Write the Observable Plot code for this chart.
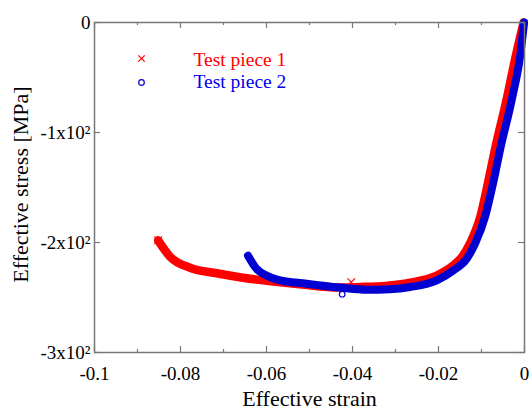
<!DOCTYPE html>
<html><head><meta charset="utf-8">
<script src="https://cdn.jsdelivr.net/npm/d3@7"></script>
<script src="https://cdn.jsdelivr.net/npm/@observablehq/plot@0.6"></script>
<style>body{margin:0;background:#fff;} #chart{width:530px;height:409px;}</style>
</head><body><div id="chart"></div>
<script>
// Test piece 1 (red, x markers)
const redStrain = [-0.0852, -0.0824, -0.0778, -0.0716, -0.0655, -0.0585, -0.0522, -0.0429, -0.0383, -0.0324, -0.0266, -0.0204, -0.0166, -0.0145, -0.0127, -0.0103, -0.0085, -0.0069, -0.0041, -0.0020, -0.0002];
const redStress = [-198, -213, -223, -228, -232, -235.5, -238, -241, -240.5, -239.5, -236.5, -230, -221, -213, -201, -177, -146, -116, -69, -30, 0];
// Test piece 2 (blue, o markers)
const blueStrain = [-0.0643, -0.0623, -0.0600, -0.0573, -0.0507, -0.0429, -0.0367, -0.0313, -0.0266, -0.0204, -0.0166, -0.0134, -0.0115, -0.0092, -0.0073, -0.0057, -0.0029, -0.0010, -0.0001];
const blueStress = [-212, -224, -230, -234, -237.5, -241, -243, -242.5, -240.5, -234.5, -225.5, -214.5, -201, -177, -146, -116, -69, -30, 0];
// isolated markers visible off the bands
const redMarkStrain = [-0.0852, -0.0403];
const redMarkStress = [-198, -236];
const blueMarkStrain = [-0.0643, -0.0424];
const blueMarkStress = [-212, -247];

const seriesNames = ["Test piece 1", "Test piece 2"];
const xTicks = [-0.1, -0.08, -0.06, -0.04, -0.02, 0];
const xTickLabels = ["-0.1", "-0.08", "-0.06", "-0.04", "-0.02", "0"];
const xMinorTicks = [-0.09, -0.07, -0.05, -0.03, -0.01];
const yTicks = [-300, -200, -100, 0];
const yTickLabels = ["-3x10\u00B2", "-2x10\u00B2", "-1x10\u00B2", "0"];
const xLabel = "Effective strain";
const yLabel = "Effective stress [MPa]";

const red = redStrain.map((x, i) => ({x, y: redStress[i]}));
const blue = blueStrain.map((x, i) => ({x, y: blueStress[i]}));
const redMarks = redMarkStrain.map((x, i) => ({x, y: redMarkStress[i]}));
const blueMarks = blueMarkStrain.map((x, i) => ({x, y: blueMarkStress[i]}));

const W = 530, H = 409, mL = 94, mR = 6, mT = 22, mB = 57;
const pw = W - mL - mR, ph = H - mT - mB;
const gray = "#777";
const RED = "#ff0000", BLUE = "#0000d0";
const font = "'Liberation Serif','Times New Roman',serif";

const chart = Plot.plot({
  width: W, height: H,
  marginLeft: mL, marginRight: mR, marginTop: mT, marginBottom: mB,
  style: {fontFamily: font, background: "#fff", overflow: "visible", color: "#000"},
  x: {domain: [-0.1, 0], axis: null},
  y: {domain: [-300, 0], axis: null},
  marks: [
    Plot.line(red, {x: "x", y: "y", stroke: RED, strokeWidth: 8.5, curve: "monotone-x"}),
    Plot.dot(redMarks, {x: "x", y: "y", symbol: "times", stroke: RED, r: 3.5, strokeWidth: 1.2}),
    Plot.line(blue, {x: "x", y: "y", stroke: BLUE, strokeWidth: 8, curve: "monotone-x"}),
    Plot.dot(blueMarks, {x: "x", y: "y", symbol: "circle", stroke: BLUE, fill: "none", r: 2.8, strokeWidth: 1.2}),
    // frame and inward ticks
    Plot.frame({stroke: gray, strokeWidth: 1.5}),
    Plot.tickX(xTicks, {x: d => d, stroke: gray, strokeWidth: 1.2, insetTop: ph - 6}),
    Plot.tickX(xTicks, {x: d => d, stroke: gray, strokeWidth: 1.2, insetBottom: ph - 6}),
    Plot.tickX(xMinorTicks, {x: d => d, stroke: gray, strokeWidth: 1.2, insetTop: ph - 3}),
    Plot.tickX(xMinorTicks, {x: d => d, stroke: gray, strokeWidth: 1.2, insetBottom: ph - 3}),
    Plot.tickY(yTicks, {y: d => d, stroke: gray, strokeWidth: 1.2, insetRight: pw - 6}),
    Plot.tickY(yTicks, {y: d => d, stroke: gray, strokeWidth: 1.2, insetLeft: pw - 6}),
    // tick labels
    Plot.text(xTicks, {x: d => d, text: (d, i) => xTickLabels[i], frameAnchor: "bottom", lineAnchor: "top", dy: 14, fontSize: 19, fontFamily: font, fill: "#000"}),
    Plot.text(yTicks, {y: d => d, text: (d, i) => yTickLabels[i], frameAnchor: "left", textAnchor: "end", lineAnchor: "middle", dx: -4, fontSize: 19, fontFamily: font, fill: "#000"}),
    // axis titles
    Plot.text([xLabel], {text: d => d, frameAnchor: "bottom", textAnchor: "middle", lineAnchor: "middle", dy: 46, fontSize: 22, fontFamily: font, fill: "#000"}),
    Plot.text([yLabel], {text: d => d, frameAnchor: "left", textAnchor: "middle", rotate: -90, lineAnchor: "middle", dx: -74, dy: -3, fontSize: 22, fontFamily: font, fill: "#000"}),
    // legend
    Plot.dot([seriesNames[0]], {frameAnchor: "top-left", dx: 47, dy: 36, symbol: "times", stroke: RED, r: 3, strokeWidth: 1.2}),
    Plot.dot([seriesNames[1]], {frameAnchor: "top-left", dx: 47, dy: 60, symbol: "circle", stroke: BLUE, fill: "none", r: 2.8, strokeWidth: 1.2}),
    Plot.text([seriesNames[0]], {text: d => d, frameAnchor: "top-left", textAnchor: "start", lineAnchor: "middle", dx: 99, dy: 37, fontSize: 19.5, fontFamily: font, fill: RED}),
    Plot.text([seriesNames[1]], {text: d => d, frameAnchor: "top-left", textAnchor: "start", lineAnchor: "middle", dx: 99, dy: 59, fontSize: 19.5, fontFamily: font, fill: "#0000ee"})
  ]
});
document.getElementById("chart").appendChild(chart);
</script>
</body></html>
